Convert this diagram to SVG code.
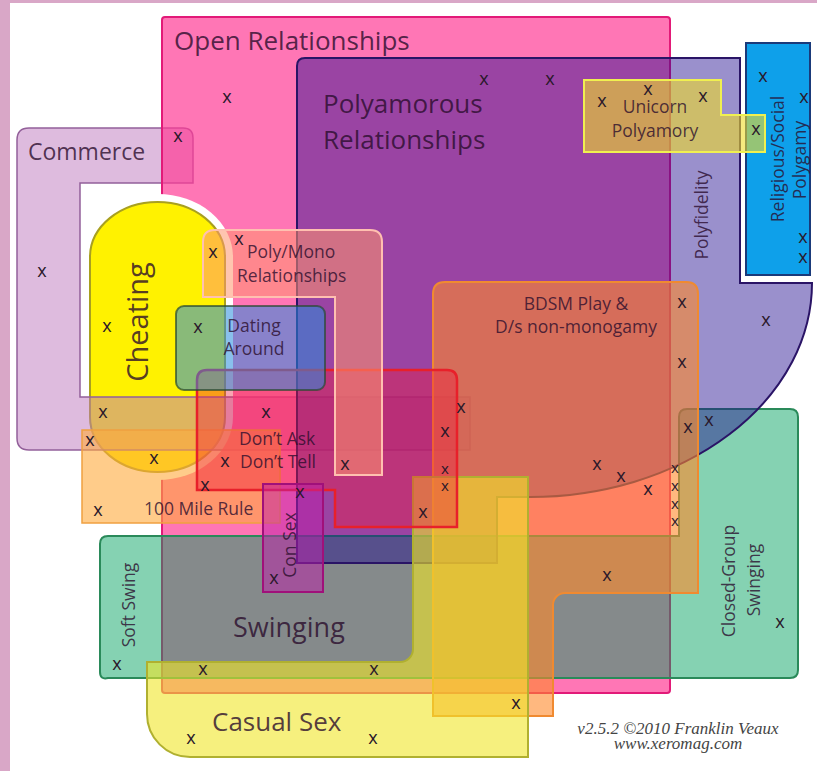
<svg xmlns="http://www.w3.org/2000/svg" width="817" height="771" viewBox="0 0 817 771">
<style>
.lbl{font-family:"Open Sans","Noto Sans",sans-serif;fill:#2a0c2c;fill-opacity:.8}
.s{font-size:17.5px}
.x{font-family:"Open Sans","Noto Sans",sans-serif;font-size:18px;font-weight:400;fill:#2a182a;text-anchor:middle}
.xs{font-size:15px}
.foot{font-family:"Liberation Serif",serif;font-style:italic;font-size:17px;fill:#444;text-anchor:middle}
</style>
<defs>
<mask id="halo" maskUnits="userSpaceOnUse" x="0" y="0" width="817" height="771">
<rect x="0" y="0" width="817" height="771" fill="#fff"/>
<path d="M82,257 A75.5,63 0 0 1 233,257 V417 A75.5,63 0 0 1 82,417 Z" fill="#000"/>
</mask>
</defs>
<rect x="0" y="0" width="817" height="771" fill="#d9a7c7"/>
<rect x="10" y="3" width="807" height="768" fill="#fff"/>

<g id="cheating">
<path d="M90,257 A67.5,55 0 0 1 225,257 V417 A67.5,55 0 0 1 90,417 Z" fill="#fff200" stroke="#a8a020" stroke-width="2"/>
</g>
<g id="commerce">
<path d="M29,128 H183 Q193,128 193,138 V183 H80 V397 H470 V450 H29 Q17,450 17,438 V140 Q17,128 29,128 Z" fill="rgb(190,120,190)" fill-opacity=".5" stroke="#93609a" stroke-width="1.5"/>
</g>
<g id="open" mask="url(#halo)">
<rect x="162" y="17" width="508" height="676" rx="3" fill="rgb(255,60,150)" fill-opacity=".7" stroke="#e21a78" stroke-width="2"/>
</g>
<g id="swinging">
<path d="M108,536 H679 V417 Q679,409 687,409 H790 Q798,409 798,417 V670 Q798,678 790,678 H108 Q100,680 100,672 V544 Q100,536 108,536 Z" fill="rgb(0,160,95)" fill-opacity=".48" stroke="#2a8a5a" stroke-width="2"/>
</g>
<g id="polyamorous">
<path d="M305,58 H740 V283 H812 A282,214 0 0 1 530,497 H497 V563 H297 V66 Q297,58 305,58 Z" fill="rgb(31,9,142)" fill-opacity=".45" stroke="#2a1466" stroke-width="2"/>
</g>
<g id="religious">
<rect x="746" y="43" width="64" height="232" fill="#0ea0ea" stroke="#1a3a7a" stroke-width="2"/>
</g>
<g id="bdsm">
<path d="M445,282 H686 Q698,282 698,294 V593 H565 A12,12 0 0 0 553,605 V716 H433 V294 Q433,282 445,282 Z" fill="rgb(255,137,42)" fill-opacity=".6" stroke="#f08a30" stroke-width="2"/>
</g>
<g id="casual">
<path d="M413,477 H528 V757 H190 A43,43 0 0 1 147,714 V662 H400 A13,13 0 0 0 413,649 Z" fill="rgb(240,230,40)" fill-opacity=".6" stroke="#b0b030" stroke-width="2"/>
</g>
<g id="mile100">
<rect x="82" y="430" width="198" height="93" fill="rgb(255,170,60)" fill-opacity=".6" stroke="#f0a040" stroke-width="1.5"/>
</g>
<g id="dontask">
<path d="M207,370 H447 Q457,370 457,380 V527 H335 V490 H197 V380 Q197,370 207,370 Z" fill="rgb(240,30,60)" fill-opacity=".4" stroke="#e8202a" stroke-width="2.5"/>
</g>
<g id="polymono">
<path d="M215,230 H370 Q382,230 382,242 V475 H335 V297 H203 V242 Q203,230 215,230 Z" fill="rgb(255,150,110)" fill-opacity=".55" stroke="#ffc0b0" stroke-width="2"/>
</g>
<g id="dating">
<rect x="176" y="306" width="149" height="84" rx="8" fill="rgb(40,140,220)" fill-opacity=".55" stroke="#2a4a30" stroke-opacity=".7" stroke-width="2"/>
</g>
<g id="consex">
<rect x="263" y="484" width="60" height="108" fill="rgb(190,30,170)" fill-opacity=".5" stroke="#a0107a" stroke-width="2"/>
</g>
<g id="unicorn">
<path d="M584,80 H721 V115 H765 V152 H584 Z" fill="rgb(240,220,40)" fill-opacity=".6" stroke="#f0f050" stroke-width="2"/>
</g>

<g id="connectors"></g>

<g id="labels">
<text class="lbl" x="174" y="50" font-size="26">Open Relationships</text>
<text class="lbl" x="323" y="113" font-size="26">Polyamorous</text>
<text class="lbl" x="323" y="149" font-size="26">Relationships</text>
<text class="lbl" x="28" y="160" font-size="23">Commerce</text>
<text class="lbl s" x="655" y="113" text-anchor="middle">Unicorn</text>
<text class="lbl s" x="655" y="137" text-anchor="middle">Polyamory</text>
<text class="lbl s" transform="translate(708,215) rotate(-90)" text-anchor="middle">Polyfidelity</text>
<text class="lbl s" transform="translate(784,159) rotate(-90)" text-anchor="middle">Religious/Social</text>
<text class="lbl s" transform="translate(806,160) rotate(-90)" text-anchor="middle">Polygamy</text>
<text class="lbl s" x="247" y="258">Poly/Mono</text>
<text class="lbl s" x="237" y="282">Relationships</text>
<text class="lbl" transform="translate(148,322) rotate(-90)" text-anchor="middle" font-size="29">Cheating</text>
<text class="lbl s" x="254" y="332" text-anchor="middle">Dating</text>
<text class="lbl s" x="254" y="355" text-anchor="middle">Around</text>
<text class="lbl s" x="576" y="310" text-anchor="middle">BDSM Play &amp;</text>
<text class="lbl s" x="576" y="333" text-anchor="middle">D/s non-monogamy</text>
<text class="lbl s" x="239" y="445">Don’t Ask</text>
<text class="lbl s" x="240" y="468">Don’t Tell</text>
<text class="lbl s" x="144" y="515">100 Mile Rule</text>
<text class="lbl s" transform="translate(296,545) rotate(-90)" text-anchor="middle">Con Sex</text>
<text class="lbl s" transform="translate(135,605) rotate(-90)" text-anchor="middle">Soft Swing</text>
<text class="lbl" x="233" y="637" font-size="27">Swinging</text>
<text class="lbl" x="212" y="731" font-size="26">Casual Sex</text>
<text class="lbl s" transform="translate(735,581) rotate(-90)" text-anchor="middle">Closed-Group</text>
<text class="lbl s" transform="translate(760,580) rotate(-90)" text-anchor="middle">Swinging</text>
<text class="foot" x="678" y="734">v2.5.2 ©2010 Franklin Veaux</text>
<text class="foot" x="678" y="749">www.xeromag.com</text>
</g>

<g id="marks">
<text class="x" x="227" y="103">x</text>
<text class="x" x="178" y="142">x</text>
<text class="x" x="484" y="85">x</text>
<text class="x" x="550" y="85">x</text>
<text class="x" x="602" y="107">x</text>
<text class="x" x="648" y="95">x</text>
<text class="x" x="703" y="102">x</text>
<text class="x" x="756" y="135">x</text>
<text class="x" x="763" y="82">x</text>
<text class="x" x="804" y="103">x</text>
<text class="x" x="803" y="243">x</text>
<text class="x" x="803" y="263">x</text>
<text class="x" x="42" y="277">x</text>
<text class="x" x="213" y="258">x</text>
<text class="x" x="239" y="245">x</text>
<text class="x" x="107" y="332">x</text>
<text class="x" x="198" y="333">x</text>
<text class="x" x="766" y="326">x</text>
<text class="x" x="682" y="308">x</text>
<text class="x" x="682" y="368">x</text>
<text class="x" x="103" y="418">x</text>
<text class="x" x="266" y="418">x</text>
<text class="x" x="461" y="413">x</text>
<text class="x" x="90" y="446">x</text>
<text class="x" x="445" y="437">x</text>
<text class="x" x="688" y="433">x</text>
<text class="x" x="709" y="426">x</text>
<text class="x" x="154" y="464">x</text>
<text class="x" x="225" y="467">x</text>
<text class="x" x="345" y="470">x</text>
<text class="x xs" x="445" y="474">x</text>
<text class="x xs" x="445" y="491">x</text>
<text class="x" x="597" y="470">x</text>
<text class="x" x="621" y="482">x</text>
<text class="x" x="648" y="495">x</text>
<text class="x xs" x="675" y="473">x</text>
<text class="x xs" x="675" y="491">x</text>
<text class="x xs" x="675" y="509">x</text>
<text class="x xs" x="675" y="526">x</text>
<text class="x" x="205" y="491">x</text>
<text class="x" x="300" y="498">x</text>
<text class="x" x="98" y="516">x</text>
<text class="x" x="423" y="518">x</text>
<text class="x" x="274" y="584">x</text>
<text class="x" x="607" y="581">x</text>
<text class="x" x="780" y="628">x</text>
<text class="x" x="117" y="670">x</text>
<text class="x" x="203" y="675">x</text>
<text class="x" x="374" y="675">x</text>
<text class="x" x="516" y="709">x</text>
<text class="x" x="191" y="744">x</text>
<text class="x" x="373" y="744">x</text>
</g>
</svg>
